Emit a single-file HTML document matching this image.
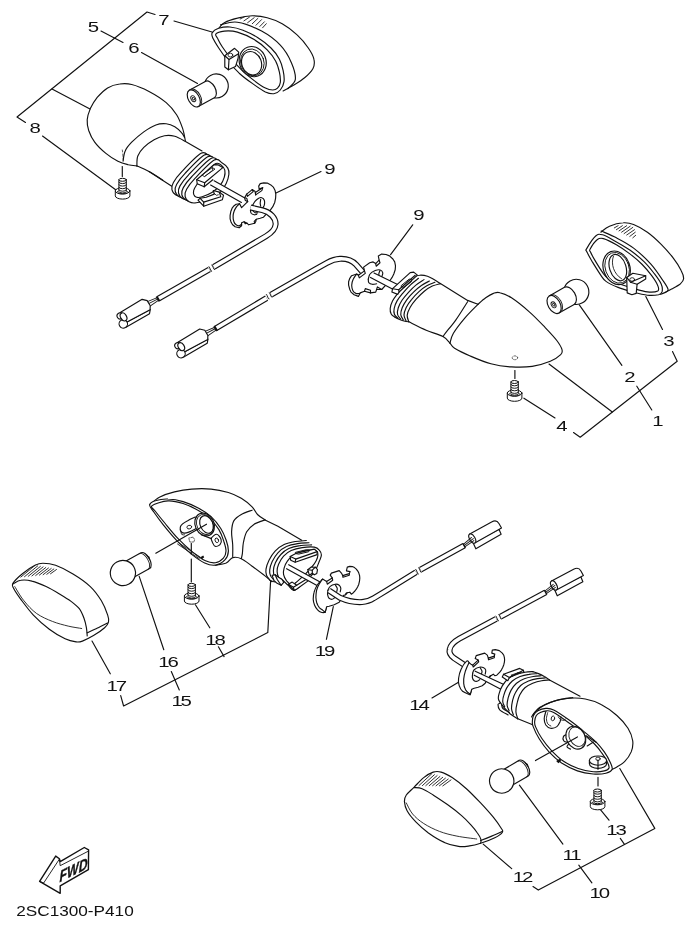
<!DOCTYPE html>
<html>
<head>
<meta charset="utf-8">
<title>Flasher Light Parts Diagram 2SC1300-P410</title>
<style>
html,body{margin:0;padding:0;background:#fff;}
body{width:696px;height:928px;overflow:hidden;font-family:"Liberation Sans",sans-serif;}
svg{display:block;filter:grayscale(100%);}
.l{fill:none;stroke:#111;stroke-width:1.15;stroke-linecap:round;stroke-linejoin:round;}
.t{fill:none;stroke:#1a1a1a;stroke-width:0.9;stroke-linecap:round;stroke-linejoin:round;}
.w{fill:#fff;stroke:#111;stroke-width:1.15;stroke-linecap:round;stroke-linejoin:round;}
.wt{fill:#fff;stroke:#1a1a1a;stroke-width:0.9;stroke-linecap:round;stroke-linejoin:round;}
.k{fill:#111;stroke:none;}
.n{font-family:"Liberation Sans",sans-serif;font-size:15.2px;fill:#111;text-anchor:middle;}
</style>
</head>
<body>
<svg width="696" height="928" viewBox="0 0 696 928">
<rect x="0" y="0" width="696" height="928" fill="#fff"/>
<g id="leaders" class="l">
  <path d="M25.5,122.5 L17,117 L147,12 L155,14.5"/>
  <path d="M101,31 L123,42.5"/>
  <path d="M141.5,52.5 L197.5,83.5"/>
  <path d="M52,89 L90,109"/>
  <path d="M42.5,136 L116,190"/>
  <path d="M174,21 L212,32"/>
  <path d="M321,171.5 L276,193"/>
  <path d="M412.7,224.8 L390.6,254.7"/>
  <path d="M645.8,296.5 L662.5,329.4"/>
  <path d="M672.5,351.5 L677.2,361.2 L580.2,437.2 L573.5,432.5"/>
  <path d="M579.3,304.9 L621.9,365.3"/>
  <path d="M636.8,386.2 L651.8,410"/>
  <path d="M549,364 L612.3,412"/>
  <path d="M523.9,398.2 L555,417.9"/>
  <path d="M92,641 L110.3,673.8"/>
  <path d="M120.7,695.6 L123.6,706 L267.8,632.6 L270.6,581"/>
  <path d="M139.2,576.4 L163.8,649.7"/>
  <path d="M171.3,671.5 L179.3,689.9"/>
  <path d="M195.4,604.8 L209.8,627.8"/>
  <path d="M218.4,646.8 L224.1,656.6"/>
  <path d="M333.3,606.6 L326.4,639.3"/>
  <path d="M432,697.9 L461,680.8"/>
  <path d="M483.2,844.1 L511.7,868.6"/>
  <path d="M533,886.5 L538.3,890.1 L654.8,828.4 L619.8,768.5"/>
  <path d="M519.4,785.2 L562.9,844.1"/>
  <path d="M578.8,865.2 L591.9,882.8"/>
  <path d="M599.8,808.9 L609,820.2"/>
  <path d="M620.3,838.4 L624.3,844.1"/>
</g>
<g id="labels" class="n">
  <text transform="translate(164,24.8) scale(1.34,1)">7</text>
  <text transform="translate(93.5,31.8) scale(1.34,1)">5</text>
  <text transform="translate(134,52.8) scale(1.34,1)">6</text>
  <text transform="translate(35.2,132.60000000000002) scale(1.34,1)">8</text>
  <text transform="translate(330,173.8) scale(1.34,1)">9</text>
  <text transform="translate(419,220.3) scale(1.34,1)">9</text>
  <text transform="translate(669,345.8) scale(1.34,1)">3</text>
  <text transform="translate(630,381.8) scale(1.34,1)">2</text>
  <text transform="translate(658,426.3) scale(1.34,1)">1</text>
  <text transform="translate(562,431.3) scale(1.34,1)">4</text>
  <text transform="translate(214.5,644.8) scale(1.34,1)" style="letter-spacing:-1.6px">18</text>
  <text transform="translate(167.4,666.8) scale(1.34,1)" style="letter-spacing:-1.6px">16</text>
  <text transform="translate(115.7,690.8) scale(1.34,1)" style="letter-spacing:-1.6px">17</text>
  <text transform="translate(180.6,705.8) scale(1.34,1)" style="letter-spacing:-1.6px">15</text>
  <text transform="translate(324.0,656.3) scale(1.34,1)" style="letter-spacing:-1.6px">19</text>
  <text transform="translate(418.5,710.3) scale(1.34,1)" style="letter-spacing:-1.6px">14</text>
  <text transform="translate(615.4,834.5999999999999) scale(1.34,1)" style="letter-spacing:-1.6px">13</text>
  <text transform="translate(571.0,859.8) scale(1.34,1)" style="letter-spacing:-1.6px">11</text>
  <text transform="translate(522.0,882.3) scale(1.34,1)" style="letter-spacing:-1.6px">12</text>
  <text transform="translate(598.8,897.8) scale(1.34,1)" style="letter-spacing:-1.6px">10</text>
</g>
<text transform="translate(16.2,915.7) scale(1.178,1)" style="font-family:'Liberation Sans',sans-serif;font-size:14.6px;fill:#111;">2SC1300-P410</text>
<g id="p5">
<path class="w" d="M185.5,141.4 L203,151.5 L176,191 L149,171.6" style="stroke:none"/>
<path class="l" d="M185.5,141.4 L202,151 M149,171.6 L174.5,188"/>
<path class="l" d="M136.9,165.9 C135.5,165.7 131.4,165.4 128.3,164.7 C125.1,163.9 121.7,163.1 117.9,161.2 C114.2,159.3 109.7,156.6 105.9,153.4 C102,150.3 97.5,146.1 94.7,142.2 C91.8,138.4 89.9,133.9 88.6,130.2 C87.4,126.4 87,123.4 87.2,119.8 C87.5,116.2 88.7,112.4 90.3,108.6 C92,104.9 94.4,100.9 97.2,97.4 C100.1,94 103.9,90.2 107.6,87.9 C111.3,85.7 115.6,84.5 119.7,84 C123.7,83.4 126.8,83.2 131.7,84.5 C136.6,85.7 143.2,88.4 149,91.4 C154.7,94.4 161.6,98.7 166.2,102.6 C170.8,106.5 173.8,110.3 176.6,114.7 C179.3,119 181.1,124 182.6,128.4 C184.1,132.9 185,139.2 185.5,141.4"/>
<path class="l" d="M136.9,165.9 C138.9,166.8 144.7,169.2 149,171.6 C153.3,173.9 160.5,178.7 162.8,180.2"/>
<path class="l" d="M123.1,161.2 C123.4,159.5 123.7,154 125.2,150.9 C126.6,147.7 128.6,145.4 131.7,142.2 C134.8,139.1 139.8,134.8 143.8,131.9 C147.8,129 152.1,126.4 155.9,125 C159.6,123.6 163,123.5 166.2,123.8 C169.4,124.1 172.2,125.2 174.8,126.7 C177.4,128.2 180.1,131 181.7,132.8 C183.3,134.5 184,136.6 184.5,137.4"/>
<path class="l" d="M136.9,165.9 C137,164.2 136.6,159.1 137.8,156 C138.9,153 141.1,150.1 143.8,147.4 C146.5,144.7 150.7,141.6 154.1,139.7 C157.6,137.7 161,136.3 164.5,135.7 C167.9,135.1 171.3,135.3 174.8,136.2 C178.3,137.2 183.7,140.5 185.5,141.4"/>
<path class="t" d="M122.3,150 L122.6,152 M122.8,154 L123,156.5 M123.1,158 L123.2,160" style="stroke-width:0.7"/>
<path class="l" d="M122.3,166.5 L122.3,176.5"/>
</g>
<g id="p5end">
<path class="w" d="M214.3,160.1 C218.8,157.6 220.1,161.8 222.3,163.1 C224.6,164.5 226.8,166.3 227.8,168.1 C228.9,170 229.1,171.7 228.9,174.2 C228.6,176.7 227.8,180.2 226.3,183.2 C224.9,186.2 223,189.6 220.3,192.3 C217.6,195 214.3,197.6 210.2,199.3 C206.2,201.1 199.7,202.4 196.2,202.8 C192.6,203.3 191,202.9 189.1,201.8 C187.3,200.8 185.5,198.4 185.1,196.3 C184.7,194.2 184.9,192.3 186.6,189.3 C188.3,186.2 190.5,183.1 195.2,178.2 C199.8,173.3 209.7,162.6 214.3,160.1 Z" transform="translate(-13.2,-6.8)"/>
<path class="w" d="M214.3,160.1 C218.8,157.6 220.1,161.8 222.3,163.1 C224.6,164.5 226.8,166.3 227.8,168.1 C228.9,170 229.1,171.7 228.9,174.2 C228.6,176.7 227.8,180.2 226.3,183.2 C224.9,186.2 223,189.6 220.3,192.3 C217.6,195 214.3,197.6 210.2,199.3 C206.2,201.1 199.7,202.4 196.2,202.8 C192.6,203.3 191,202.9 189.1,201.8 C187.3,200.8 185.5,198.4 185.1,196.3 C184.7,194.2 184.9,192.3 186.6,189.3 C188.3,186.2 190.5,183.1 195.2,178.2 C199.8,173.3 209.7,162.6 214.3,160.1 Z" transform="translate(-9.9,-5.1)"/>
<path class="w" d="M214.3,160.1 C218.8,157.6 220.1,161.8 222.3,163.1 C224.6,164.5 226.8,166.3 227.8,168.1 C228.9,170 229.1,171.7 228.9,174.2 C228.6,176.7 227.8,180.2 226.3,183.2 C224.9,186.2 223,189.6 220.3,192.3 C217.6,195 214.3,197.6 210.2,199.3 C206.2,201.1 199.7,202.4 196.2,202.8 C192.6,203.3 191,202.9 189.1,201.8 C187.3,200.8 185.5,198.4 185.1,196.3 C184.7,194.2 184.9,192.3 186.6,189.3 C188.3,186.2 190.5,183.1 195.2,178.2 C199.8,173.3 209.7,162.6 214.3,160.1 Z" transform="translate(-6.6,-3.4)"/>
<path class="w" d="M214.3,160.1 C218.8,157.6 220.1,161.8 222.3,163.1 C224.6,164.5 226.8,166.3 227.8,168.1 C228.9,170 229.1,171.7 228.9,174.2 C228.6,176.7 227.8,180.2 226.3,183.2 C224.9,186.2 223,189.6 220.3,192.3 C217.6,195 214.3,197.6 210.2,199.3 C206.2,201.1 199.7,202.4 196.2,202.8 C192.6,203.3 191,202.9 189.1,201.8 C187.3,200.8 185.5,198.4 185.1,196.3 C184.7,194.2 184.9,192.3 186.6,189.3 C188.3,186.2 190.5,183.1 195.2,178.2 C199.8,173.3 209.7,162.6 214.3,160.1 Z" transform="translate(-3.3,-1.7)"/>
<path class="w" d="M214.3,160.1 C218.8,157.6 220.1,161.8 222.3,163.1 C224.6,164.5 226.8,166.3 227.8,168.1 C228.9,170 229.1,171.7 228.9,174.2 C228.6,176.7 227.8,180.2 226.3,183.2 C224.9,186.2 223,189.6 220.3,192.3 C217.6,195 214.3,197.6 210.2,199.3 C206.2,201.1 199.7,202.4 196.2,202.8 C192.6,203.3 191,202.9 189.1,201.8 C187.3,200.8 185.5,198.4 185.1,196.3 C184.7,194.2 184.9,192.3 186.6,189.3 C188.3,186.2 190.5,183.1 195.2,178.2 C199.8,173.3 209.7,162.6 214.3,160.1 Z"/>
<path class="l" d="M215.8,163.6 C218.7,162.2 220.3,164.5 221.8,165.6 C223.3,166.7 224.4,168.2 224.8,170.2 C225.2,172.1 225.1,174.7 224.3,177.2 C223.6,179.7 222.3,182.7 220.3,185.2 C218.3,187.8 215.3,190.4 212.3,192.3 C209.2,194.2 204.8,196 202.2,196.8 C199.6,197.6 198,197.6 196.7,197.3 C195.3,197 194.4,196 193.9,194.8 C193.5,193.6 193.3,191.9 193.7,190.3 C194.2,188.6 194.9,187.4 196.7,184.7 C198.4,182.1 201,177.7 204.2,174.2 C207.4,170.7 212.8,165 215.8,163.6 Z"/>
<path class="w" d="M213.3,190.5 L219.3,192.1 L223.5,195.3 L222.3,199.8 L203.7,206.2 L198,200.1 L200.2,198.3 L206.2,197.3 L214.3,194.1 Z"/>
<path class="l" d="M200.2,198.3 L203.7,202.1 L220.8,196.8 L219.3,192.1"/>
<path class="l" d="M203.7,202.1 L203.7,206.2"/>
<path class="t" d="M214.3,193.3 L216.3,195.3 L218.3,194.8"/>
<path class="w" d="M214.1,180.8 L244.4,197.7 L241.4,202.4 L210.6,185.1 Z" style="stroke:none"/>
<path class="l" d="M214.1,180.8 L244.4,197.7"/>
<path class="l" d="M210.6,185.1 L241.4,202.4"/>
<path class="w" d="M196.7,179.7 L214.3,164.6 L218.3,164.9 L222.8,167.6 L204.7,182.7 L204.2,186.8 L197.2,183.7 Z"/>
<path class="l" d="M196.7,179.7 L204.7,182.7"/>
<path class="l" d="M204.2,186.8 L212.8,179.7"/>
<path class="t" d="M202.2,174.7 L212.3,167.6 L215,169.1 L204.7,176.4 Z"/>
<path class="t" d="M212.3,167.6 L212.8,170.2 L204.7,176.4"/>
</g>
<g style="stroke-width:1.0;stroke:#111">
<path class="w" style="stroke-width:1.0" d="M115.3,190.9 L115.3,195.9 A7.3,3.2 0 0 0 129.9,195.9 L129.9,190.9 Z"/>
<ellipse class="w" style="stroke-width:1.0" cx="122.6" cy="190.9" rx="7.3" ry="3.2"/>
<path class="t" d="M117.4,191.5 A5.2,2.2 0 0 0 127.8,191.5"/>
<path class="w" style="stroke-width:1.0" d="M118.9,179.8 L118.9,191.5 A3.7,1.5 0 0 0 126.3,191.5 L126.3,179.8 Z"/>
<path class="l" style="stroke-width:0.95" d="M118.9,182.2 A3.7,1.4 0 0 0 126.3,182.2"/>
<path class="l" style="stroke-width:0.95" d="M118.9,184.7 A3.7,1.4 0 0 0 126.3,184.7"/>
<path class="l" style="stroke-width:0.95" d="M118.9,187.3 A3.7,1.4 0 0 0 126.3,187.3"/>
<path class="l" style="stroke-width:0.95" d="M118.9,189.8 A3.7,1.4 0 0 0 126.3,189.8"/>
<ellipse class="w" style="stroke-width:1.0" cx="122.6" cy="179.8" rx="3.7" ry="1.5"/>
</g>
<g transform="translate(193.8,98.4) rotate(-29)">
<circle class="w" cx="25.7" cy="0" r="12.0"/>
<path class="w" style="stroke:none" d="M0,-9.3 L18.3,-9.3 A5.5,9.3 0 0 1 18.3,9.3 L0,9.3 Z"/>
<path class="l" d="M0,-9.3 L18.3,-9.3 A5.5,9.3 0 0 1 18.3,9.3 L0,9.3"/>
<ellipse class="wt" cx="1.6" cy="0" rx="5.5" ry="9.3"/>
<ellipse class="w" cx="0" cy="0" rx="5.5" ry="9.3"/>
<ellipse class="t" cx="-0.6" cy="0" rx="2.2" ry="3.2"/>
<ellipse class="t" cx="-0.4" cy="0" rx="1.0" ry="1.5"/>
</g>
<g id="p7">
<path class="w" d="M218.7,28.3 C219.6,27.4 221.2,24.5 224.3,22.7 C227.4,21 232.7,19.2 237.4,18.1 C242,16.9 247.3,15.9 252.3,15.8 C257.3,15.8 262.3,16.4 267.2,17.7 C272.2,19 277.2,20.8 282.2,23.7 C287.2,26.5 292.8,30.8 297.1,34.9 C301.5,38.9 305.5,43.9 308.3,48 C311.1,52 313.2,55.7 313.9,59.2 C314.7,62.6 314.6,65.4 313,68.5 C311.4,71.6 307.9,75 304.6,77.8 C301.3,80.6 297,83.1 293.4,85.3 C289.8,87.5 284.8,90 283.1,90.9"/>
<path class="l" d="M220.5,24.8 C223.3,24.4 230.5,21.1 237.4,22.2 C244.2,23.2 254.5,27.3 261.6,31.1 C268.8,35 275.3,39.9 280.3,45.2 C285.3,50.4 289,57.1 291.5,62.9 C294,68.7 295.9,75.4 295.3,79.7 C294.6,84 289,87.2 287.8,88.7"/>
<path class="t" d="M240.2,19 L244.8,16.6"/>
<path class="t" d="M243.9,20.9 L249.5,17.1"/>
<path class="t" d="M247.6,22.7 L254.2,17.7"/>
<path class="t" d="M252.3,23.7 L257.9,18.4"/>
<path class="t" d="M256,25.2 L261.6,19.6"/>
<path class="t" d="M259.8,26.5 L264.4,21.8"/>
<path class="t" d="M262.6,27.8 L266.3,23.7"/>
<path class="w" d="M212.1,33 C213.1,31.3 215.7,29.3 218.7,28.3 C221.6,27.4 225.8,26.7 229.9,27 C233.9,27.4 238.3,28.4 243,30.2 C247.6,32 253.2,34.7 257.9,37.7 C262.6,40.6 267.4,44.4 271,48 C274.6,51.5 277.4,55.4 279.4,59.2 C281.4,62.9 282.3,66.6 283.1,70.4 C283.9,74.1 284.5,78.3 284,81.6 C283.6,84.8 282,88 280.3,90 C278.6,92 276.3,93.4 273.8,93.7 C271.3,94 269,93.6 265.4,91.9 C261.8,90.1 256.7,86.6 252.3,83.4 C247.9,80.3 243.3,76.9 239.2,73.2 C235.2,69.4 231.4,65.2 228,61 C224.6,56.8 221.2,51.7 218.7,48 C216.2,44.2 214.2,41.1 213.1,38.6 C212,36.1 211.2,34.7 212.1,33 Z"/>
<path class="l" d="M215.9,34 C217,32.7 220.7,31.5 224.3,31.1 C227.9,30.8 232.4,30.7 237.4,32.1 C242.3,33.5 249.2,36.6 254.2,39.6 C259.1,42.5 263.7,46.2 267.2,49.8 C270.8,53.4 273.6,57.3 275.6,61 C277.7,64.8 278.6,68.7 279.4,72.2 C280.2,75.8 280.6,79.9 280.3,82.5 C280,85.2 278.8,86.9 277.5,88.1 C276.3,89.4 274.9,90 272.8,90 C270.8,90 268.5,89.7 265.4,88.1 C262.3,86.6 258.1,83.6 254.2,80.6 C250.3,77.7 245.9,74.1 242,70.4 C238.1,66.6 234.1,62.1 230.8,58.2 C227.5,54.3 224.6,50.3 222.4,47 C220.2,43.8 218.8,40.8 217.7,38.6 C216.7,36.4 214.8,35.2 215.9,34 Z"/>
<ellipse class="w" cx="252.7" cy="61.6" rx="13.3" ry="15.3" transform="rotate(-20 252.7 61.6)"/>
<ellipse class="t" cx="252.1" cy="62.2" rx="11.6" ry="13.6" transform="rotate(-20 252.7 61.6)"/>
<ellipse class="l" cx="251.1" cy="62.8" rx="9.8" ry="12" transform="rotate(-20 252.7 61.6)"/>
<path class="w" d="M224.8,55.8 L234.6,48.3 L238.7,52.1 L238.1,58.2 L235.5,66.6 L228.4,69.8 L224.8,67 Z"/>
<path class="l" d="M224.8,55.8 L229,59.5 L238.1,53.9"/>
<path class="l" d="M229,59.5 L228.4,69.8"/>
<ellipse class="t" cx="230.4" cy="55.1" rx="2.4" ry="1.9"/>
</g>
<g id="p9a">
<path class="w" d="M260.2,183.6 L263.8,182.9 L267.3,183.1 L270.8,184.9 L273.3,187.1 L275.1,190.6 L275.8,194.1 L275.6,198.2 L274.8,202.2 L272.8,206.7 L270.3,210.2 L267.3,212.8 L263.3,217.3 L260.2,218.3 L256.2,219.3 L255.7,221.8 L254.7,223.3 L248.7,224.8 L247.2,223.3 L244.1,221.8 L241.6,222.8 L241.6,225.8 L239.1,227.8 L235.1,226.8 L232.6,224.8 L231.1,222.3 L230.1,218.8 L230.1,215.3 L230.9,211.2 L232.1,208.2 L234.1,205.7 L236.1,204.2 L239.6,203.7 L241.6,207.7 L247.7,201.7 L246.7,198.2 L244.6,197.7 L246.7,194.1 L252.2,189.6 L255.2,191.6 L255.7,194.9 L261.8,190.6 L262.8,187.6 L259.2,189.1 L258.7,186.1 Z"/>
<path class="l" d="M239.6,203.7 C239.1,204.2 237.5,205.5 236.6,206.7 C235.7,208 234.7,209.7 234.1,211.2 C233.5,212.8 233.1,214.5 233.1,216.3 C233,218 233.4,220.4 233.9,221.8 C234.4,223.2 235.2,224.2 236.1,224.8 C237,225.5 238.2,225.9 239.1,225.8 C240,225.8 241.2,224.6 241.6,224.3"/>
<path class="l" d="M244.6,197.7 L245.2,200.2 L247.7,201.7"/>
<path class="l" d="M246.7,194.1 L247.4,196.4 L253.2,191.6 L252.2,189.6"/>
<path class="l" d="M255.7,194.9 L255.4,192.6 L260.7,189.1 L259.2,189.1"/>
<path class="l" d="M244.1,221.8 L245.2,223.8 L247.2,223.3"/>
<path class="l" d="M254.7,223.3 L254.2,221.3 L256.2,219.3"/>
<path class="l" d="M252.7,205.2 C253.1,204.5 254.2,202.4 255.2,201.2 C256.2,200 257.6,198.8 258.7,198.2 C259.8,197.6 260.8,197.3 261.8,197.7 C262.7,198 263.8,198.9 264.3,200.2 C264.7,201.4 264.6,203.8 264.3,205.2 C263.9,206.6 262.6,208.1 262.3,208.7"/>
<path class="l" d="M260.7,199.2 C260.7,199.8 260.2,202 260.2,203.2 C260.2,204.4 260.7,205.7 260.7,206.2"/>
<path class="l" d="M252.7,205.2 C252.4,205.9 250.9,207.9 250.7,209.2 C250.4,210.6 250.6,212.3 251.2,213.3 C251.8,214.2 253.3,214.6 254.2,214.8 C255.1,214.9 256.3,214.3 256.7,214.3"/>
<path class="l" d="M253.2,211.2 C253.5,211.5 254.5,212.5 255.2,212.8 C256,213 257.3,212.8 257.7,212.8"/>
</g>
<g id="cable5">
<path d="M250.5,207.5 L262.3,210.2 C270,212 276,218 275.6,224.4 C275.2,229.6 271,233.2 266,236.2 L213.8,266.9" style="fill:none;stroke:#111;stroke-width:6.0;stroke-linecap:butt;stroke-linejoin:round"/>
<path d="M250.5,207.5 L262.3,210.2 C270,212 276,218 275.6,224.4 C275.2,229.6 271,233.2 266,236.2 L213.8,266.9" style="fill:none;stroke:#fff;stroke-width:3.7;stroke-linecap:butt;stroke-linejoin:round"/>
<path d="M209.3,269.5 L158,298.9" style="fill:none;stroke:#111;stroke-width:6.0;stroke-linecap:butt;stroke-linejoin:round"/>
<path d="M209.3,269.5 L158,298.9" style="fill:none;stroke:#fff;stroke-width:3.7;stroke-linecap:butt;stroke-linejoin:round"/>
<g transform="translate(211.5,268.2) rotate(-30.5)" class="t">
<path d="M-1.6,-2.7 C-0.4,-1.6 -2.6,0.8 -1.4,2.7"/>
<path d="M1.8,-2.7 C3,-1.6 0.8,0.8 2,2.7"/>
</g>
<g transform="translate(158,298.9) rotate(149.5)">
<path class="t" d="M0,-1.5 L10.5,-2.2 M0,0 L10.5,0.6 M0,1.5 L10.5,3"/>
<path d="M0,-2.8 L0,2.8" style="stroke:#111;stroke-width:2.2;fill:none"/>
<path class="w" d="M12,-5.2 L14.8,-8.4 L42,-8.2 L39,-4.2 Z"/>
<path class="w" d="M13.9,7.7 L10.2,4 L10.2,-2 L12.4,-5.4 L39,-4.2 L39,7.4 Z"/>
<circle class="w" cx="42.6" cy="-3.9" r="4.2"/>
<circle class="w" cx="41.2" cy="4.6" r="3.1"/>
<ellipse class="w" cx="38.8" cy="2.0" rx="2.9" ry="4.3"/>
</g>
</g>
<g id="asm1">
<path d="M363,272.5 L356,264.5 C352,260.3 346,258.5 340,258.8 C335,259 331,260.6 327,262.8 L314,270.2 L271.2,294.6" style="fill:none;stroke:#111;stroke-width:6.0;stroke-linecap:butt;stroke-linejoin:round"/>
<path d="M363,272.5 L356,264.5 C352,260.3 346,258.5 340,258.8 C335,259 331,260.6 327,262.8 L314,270.2 L271.2,294.6" style="fill:none;stroke:#fff;stroke-width:3.7;stroke-linecap:butt;stroke-linejoin:round"/>
<path d="M266.6,298.1 L215.6,328.5" style="fill:none;stroke:#111;stroke-width:6.0;stroke-linecap:butt;stroke-linejoin:round"/>
<path d="M266.6,298.1 L215.6,328.5" style="fill:none;stroke:#fff;stroke-width:3.7;stroke-linecap:butt;stroke-linejoin:round"/>
<g transform="translate(268.9,295.9) rotate(-30.5)" class="t">
<path d="M-1.6,-2.7 C-0.4,-1.6 -2.6,0.8 -1.4,2.7"/>
<path d="M1.8,-2.7 C3,-1.6 0.8,0.8 2,2.7"/>
</g>
<g transform="translate(215.6,328.5) rotate(149.2)">
<path class="t" d="M0,-1.5 L10.5,-2.2 M0,0 L10.5,0.6 M0,1.5 L10.5,3"/>
<path d="M0,-2.8 L0,2.8" style="stroke:#111;stroke-width:2.2;fill:none"/>
<path class="w" d="M12,-5.2 L14.8,-8.4 L42,-8.2 L39,-4.2 Z"/>
<path class="w" d="M13.9,7.7 L10.2,4 L10.2,-2 L12.4,-5.4 L39,-4.2 L39,7.4 Z"/>
<circle class="w" cx="42.6" cy="-3.9" r="4.2"/>
<circle class="w" cx="41.2" cy="4.6" r="3.1"/>
<ellipse class="w" cx="38.8" cy="2.0" rx="2.9" ry="4.3"/>
</g>
<path class="w" d="M381.7,254.1 L386,254.5 L389.5,255.9 L392.9,259 L394.7,261.9 L395.5,265.9 L395.2,269.7 L393.8,274 L392.1,277.4 L389.5,281.2 L386.9,283.8 L381.7,289.5 L376.6,289.5 L375.7,292.1 L370.5,292.9 L364.5,291.2 L360.2,292.9 L358.4,296.4 L354.1,294.7 L351,292.1 L349.8,289.5 L348.6,285.2 L348.6,281.7 L349.8,278.3 L351.6,275.7 L356.7,274 L358.4,275.2 L364.5,270.9 L363.6,267.1 L369.7,262.8 L373.1,261.9 L375.7,263.6 L379.1,260.2 L378.3,255.9 Z"/>
<path class="l" d="M356.7,274 C356.1,274.8 354.1,277.3 353.3,279.1 C352.4,281 351.8,283.2 351.7,285.2 C351.7,287.1 352.2,289.3 352.9,290.7 C353.6,292.1 354.7,293 355.9,293.4 C357,293.9 359,293.4 359.7,293.4"/>
<path class="l" d="M358.4,275.2 L359.3,277.9 L365.3,273.4 L364.5,270.9"/>
<path class="l" d="M375.7,263.6 L376.2,266.2 L380,262.8 L379.1,260.2"/>
<path class="l" d="M364.5,291.2 L365.3,288.6 L370.5,290.3 L370.5,292.9"/>
<path class="l" d="M376.6,289.5 L377.4,286.9 L381.7,289.5"/>
<path class="l" d="M368.3,279.1 C368.6,278.3 368.9,275.4 370,274 C371.1,272.5 373.4,271.2 375.2,270.5 C376.9,269.9 379.1,269.6 380.3,270 C381.6,270.4 382.5,271.6 382.8,272.8 C383,273.9 381.9,276.2 381.7,276.9"/>
<path class="l" d="M368.3,279.1 C368.4,279.7 368.1,281.7 368.8,282.6 C369.5,283.4 370.9,284.1 372.2,284.3 C373.5,284.5 375.8,283.9 376.6,283.8"/>
<path class="l" d="M380,270.5 C379.8,271.1 378.9,272.8 378.8,274 C378.7,275.1 379.5,276.8 379.7,277.4"/>
<path class="w" d="M374,273.1 L400.7,286 L398.1,292.1 L370.5,277.4 Z" style="stroke:none"/>
<path class="l" d="M374,273.1 L400.7,286"/>
<path class="l" d="M370.5,277.4 L398.1,292.1"/>
<path class="w" d="M395.1,317.3 L391.2,314 L390.2,308.5 L392.5,301 L398,293 L405,284.5 L413,277 L440.4,283.6 L440.4,283.6 L467.6,300.4 L477.9,304.3 L477.9,304.3 L485.7,297.8 L493.4,293.4 L499.9,292.7 L511.5,297.8 L529.6,312.1 L545.2,327.6 L556.8,340.5 L562,349.6 L560.7,354.7 L550.3,361.2 L532.2,366.4 L511.5,366.9 L490.9,363.8 L470.2,356 L454.6,348.3 L450,343.1 L450,343.1 L443,336.6 L426.2,330.2 L408.8,321.8 L408.8,321.8 L407.2,315.3 L410.2,307.3 L416.2,299.2 L424.3,291.2 L432.3,286.1 L440.4,283.6 Z" style="stroke:none"/>
<path class="w" d="M413,277 L405,284.5 L398,293 L392.5,301 L390.2,308.5 L391.2,314 L395.1,317.3 L408.8,321.8 L407.2,315.3 L410.2,307.3 L416.2,299.2 L424.3,291.2 L432.3,286.1 L440.4,283.6 Z" style="stroke:none"/>
<path class="l" d="M413,277 C411.7,278.2 407.5,281.8 405,284.5 C402.5,287.2 400.1,290.2 398,293 C395.9,295.8 393.8,298.4 392.5,301 C391.2,303.6 390.4,306.3 390.2,308.5 C390,310.7 390.4,312.5 391.2,314 C392,315.5 394.5,316.8 395.1,317.3"/>
<path class="l" d="M418.5,278.3 C417.1,279.4 413,282.4 410.5,284.8 C407.9,287.2 405.5,290 403.3,292.6 C401.1,295.3 398.8,298 397.2,300.6 C395.7,303.2 394.7,306 394.2,308.3 C393.7,310.5 393.8,312.6 394.4,314.3 C395,315.9 397.3,317.5 397.8,318.2"/>
<path class="l" d="M424,279.6 C422.6,280.6 418.5,283 415.9,285.1 C413.3,287.2 410.8,289.8 408.5,292.3 C406.2,294.8 403.7,297.7 402,300.3 C400.3,302.9 398.9,305.6 398.2,308 C397.5,310.4 397.2,312.7 397.6,314.5 C398,316.4 400.1,318.3 400.6,319.1"/>
<path class="l" d="M429.4,281 C428.1,281.7 424,283.6 421.4,285.5 C418.8,287.3 416.2,289.5 413.8,291.9 C411.3,294.3 408.6,297.3 406.7,299.9 C404.8,302.6 403.2,305.3 402.2,307.8 C401.2,310.3 400.6,312.7 400.8,314.8 C401,316.8 402.9,319.1 403.3,320"/>
<path class="l" d="M434.9,282.3 C433.6,282.9 429.5,284.2 426.8,285.8 C424.2,287.3 421.6,289.3 419,291.6 C416.5,293.9 413.6,296.9 411.5,299.6 C409.3,302.2 407.4,305 406.2,307.5 C405,310.1 404,312.8 404,315 C404,317.3 405.7,319.9 406.1,320.9"/>
<path class="l" d="M440.4,283.6 C439,284 435,284.8 432.3,286.1 C429.6,287.4 427,289 424.3,291.2 C421.6,293.4 418.6,296.5 416.2,299.2 C413.8,301.9 411.7,304.6 410.2,307.3 C408.7,310 407.4,312.9 407.2,315.3 C407,317.7 408.5,320.7 408.8,321.8"/>
<path class="l" d="M413,277 C414.2,276.7 417.6,275.3 420,275.2 C422.4,275.1 425.2,275.5 427.5,276.2 C429.8,276.9 431.9,278.3 434,279.5 C436.1,280.7 439.3,282.9 440.4,283.6"/>
<path class="l" d="M395.1,317.3 C395.8,317.6 397.5,318.6 399,319.2 C400.5,319.8 402.4,320.6 404,321 C405.6,321.4 408,321.7 408.8,321.8"/>
<path class="l" d="M440.4,283.6 L467.6,300.4 L477.9,304.3"/>
<path class="l" d="M477.9,304.3 C479.2,303.2 483.1,299.7 485.7,297.8 C488.3,296 491.1,294.3 493.4,293.4 C495.8,292.6 496.9,291.9 499.9,292.7 C502.9,293.4 506.6,294.6 511.5,297.8 C516.5,301.1 524,307.1 529.6,312.1 C535.2,317 540.6,322.8 545.2,327.6 C549.7,332.3 554,336.8 556.8,340.5 C559.6,344.2 561.3,347.2 562,349.6 C562.6,351.9 562.6,352.8 560.7,354.7 C558.7,356.7 555.1,359.3 550.3,361.2 C545.6,363.1 538.7,365.4 532.2,366.4 C525.8,367.3 518.4,367.3 511.5,366.9 C504.6,366.5 497.7,365.6 490.9,363.8 C484,362 476.2,358.6 470.2,356 C464.1,353.4 458,350.4 454.6,348.3 C451.3,346.1 450.8,344 450,343.1"/>
<path class="l" d="M408.8,321.8 C411.7,323.2 420.5,327.7 426.2,330.2 C431.9,332.6 439,334.5 443,336.6 C447,338.8 448.8,342 450,343.1"/>
<path class="w" d="M391.9,292 L392.6,288.7 L410.2,272.6 L413.7,272.1 L417.4,275.1 L399.1,292 L397.7,294.4 Z"/>
<path class="l" d="M392.6,288.7 L398.7,289.8 L415.2,275.3"/>
<path class="l" d="M398.7,289.8 L399.1,292"/>
<path class="l" d="M401.6,285.3 L409.2,279.1 L411.7,279.6 L411.4,281.6 L404.1,287.2 L401.6,286.9 Z" style="stroke-width:1"/>
<path class="l" d="M467.6,301.7 C465.6,304.7 459.6,314.6 455.9,319.8 C452.3,325 447.8,330 445.6,332.8 C443.4,335.6 443.4,336 443,336.6"/>
<path class="l" d="M477.9,304.3 C475.8,306.5 469.1,312.9 465,317.8 C460.9,322.6 455.9,329 453.4,333.3 C450.9,337.5 450.6,341.5 450,343.1"/>
<ellipse class="t" cx="514.9" cy="357.8" rx="2.8" ry="1.9" style="stroke-dasharray:1.3 1.3;stroke-width:0.7"/>
<path class="l" d="M514.9,370.5 L514.9,378.5"/>
</g>
<g style="stroke-width:1.0;stroke:#111">
<path class="w" style="stroke-width:1.0" d="M507.3,393.1 L507.3,398.1 A7.3,3.2 0 0 0 521.9,398.1 L521.9,393.1 Z"/>
<ellipse class="w" style="stroke-width:1.0" cx="514.6" cy="393.1" rx="7.3" ry="3.2"/>
<path class="t" d="M509.4,393.7 A5.2,2.2 0 0 0 519.8,393.7"/>
<path class="w" style="stroke-width:1.0" d="M510.9,382 L510.9,393.7 A3.7,1.5 0 0 0 518.3,393.7 L518.3,382 Z"/>
<path class="l" style="stroke-width:0.95" d="M510.9,384.4 A3.7,1.4 0 0 0 518.3,384.4"/>
<path class="l" style="stroke-width:0.95" d="M510.9,386.9 A3.7,1.4 0 0 0 518.3,386.9"/>
<path class="l" style="stroke-width:0.95" d="M510.9,389.4 A3.7,1.4 0 0 0 518.3,389.4"/>
<path class="l" style="stroke-width:0.95" d="M510.9,392 A3.7,1.4 0 0 0 518.3,392"/>
<ellipse class="w" style="stroke-width:1.0" cx="514.6" cy="382" rx="3.7" ry="1.5"/>
</g>
<g transform="translate(554.1,304.5) rotate(-29.6)">
<circle class="w" cx="25.5" cy="0" r="12.6"/>
<path class="w" style="stroke:none" d="M0,-9.8 L17.5,-9.8 A6.0,9.8 0 0 1 17.5,9.8 L0,9.8 Z"/>
<path class="l" d="M0,-9.8 L17.5,-9.8 A6.0,9.8 0 0 1 17.5,9.8 L0,9.8"/>
<ellipse class="wt" cx="1.6" cy="0" rx="6.0" ry="9.8"/>
<ellipse class="w" cx="0" cy="0" rx="6.0" ry="9.8"/>
<ellipse class="t" cx="-0.6" cy="0" rx="2.2" ry="3.2"/>
<ellipse class="t" cx="-0.4" cy="0" rx="1.0" ry="1.5"/>
</g>
<g id="p3">
<path class="w" d="M600.9,232.2 C602.3,231.2 605.7,227.8 609.5,226.2 C613.2,224.6 619.3,223 623.3,222.8 C627.3,222.5 629.6,222.9 633.6,224.5 C637.6,226.1 642.8,228.9 647.4,232.2 C652,235.5 656.9,240 661.2,244.3 C665.5,248.6 670,253.8 673.3,258.1 C676.6,262.4 679.3,266.7 681,270.2 C682.8,273.6 683.8,276.5 683.6,278.8 C683.5,281.1 682.2,282.2 680.2,284 C678.2,285.7 674.1,287.7 671.6,289.1 C669,290.6 666.5,291.7 664.7,292.6 C662.8,293.4 661.1,294 660.3,294.3"/>
<path class="l" d="M601.2,231 C603.7,232.2 611,234.9 616.4,237.8 C621.8,240.6 627.9,243.7 633.6,248.1 C639.4,252.5 646,258.7 650.9,264.1 C655.7,269.5 660.1,276.3 662.9,280.5 C665.8,284.7 667.8,287.5 668.1,289.5 C668.4,291.5 665.5,292.1 665,292.6"/>
<path class="t" d="M614.3,227.9 L618.1,225.7"/>
<path class="t" d="M616.4,229.7 L622.4,225.7"/>
<path class="t" d="M619,230.9 L626.7,225.7"/>
<path class="t" d="M621.6,232.2 L630.2,226.2"/>
<path class="t" d="M624.1,233.6 L632.8,227.4"/>
<path class="t" d="M626.7,235 L634.5,229.7"/>
<path class="t" d="M629.8,236.4 L635.3,232.2"/>
<path class="t" d="M632.8,237.8 L635.7,235.3"/>
<path class="w" d="M586.7,248.6 C588.2,246 593,238.3 595.7,236 C598.3,233.7 599.4,234 602.6,234.8 C605.7,235.6 610.1,238.3 614.7,240.9 C619.3,243.4 625.3,246.9 630.2,250.3 C635.1,253.8 639.9,257.7 644,261.6 C648,265.4 651.4,269.9 654.3,273.6 C657.2,277.4 659.9,280.9 661.2,284 C662.5,287 662.5,289.9 662.1,291.7 C661.6,293.5 661.1,294.1 658.6,294.7 C656.2,295.2 651.9,295.7 647.4,295.2 C643,294.7 636.8,293 631.9,291.7 C627,290.4 622.4,289.1 618.1,287.4 C613.8,285.7 608.9,283.4 606,281.4 C603.2,279.4 603.2,278.6 600.9,275.3 C598.6,272 594.6,265.5 592.2,261.6 C589.9,257.6 587.6,253.7 586.7,251.6 C585.8,249.4 585.2,251.2 586.7,248.6 Z"/>
<path class="l" d="M590.2,249 C591.3,246.9 595.2,241.2 597.4,239.5 C599.6,237.8 600.3,237.8 603.4,238.6 C606.6,239.5 611.9,242.1 616.4,244.7 C620.8,247.2 625.9,250.8 630.2,254.1 C634.5,257.4 638.6,260.9 642.2,264.5 C645.8,268.1 649.1,272.2 651.7,275.7 C654.3,279.2 656.8,283.2 657.8,285.7 C658.8,288.2 659.5,289.8 657.8,290.9 C656,291.9 651.4,292.3 647.4,291.9 C643.4,291.5 638.2,289.8 633.6,288.4 C629,287.1 624,285.6 619.8,284 C615.7,282.4 611.4,280.5 608.6,278.8 C605.9,277.1 605.6,276.5 603.4,273.6 C601.3,270.7 597.8,265.1 595.7,261.6 C593.5,258 591.4,254.2 590.5,252.1 C589.6,250 589,251.1 590.2,249 Z"/>
<ellipse class="w" cx="616.6" cy="267.8" rx="13.2" ry="17.2" transform="rotate(-20 616.6 267.8)"/>
<ellipse class="t" cx="617.1" cy="268" rx="11.8" ry="15.8" transform="rotate(-20 616.6 267.8)"/>
<ellipse class="l" cx="617.8" cy="268" rx="8.2" ry="13.6" transform="rotate(-18 616.6 267.8)"/>
<path class="t" d="M613.4,256.3 C610.6,263.8 613.6,273.8 621.6,278.8"/>
<path class="w" d="M626.7,277.4 L632.8,273.3 L645.7,275.7 L645.7,279.1 L637.1,284.3 L636.2,293.4 L631.9,294.7 L627.2,292.9 Z"/>
<path class="l" d="M626.7,277.4 L630.5,282.2 L637.1,284.3"/>
<path class="l" d="M630.5,282.2 L645.7,275.7"/>
<ellipse class="t" cx="632.2" cy="279.5" rx="2.4" ry="1.8"/>
</g>
<g id="p15">
<path class="w" d="M149.7,504.8 C151.3,503.5 155.3,499.4 159.4,497.2 C163.5,495.1 169.1,493.2 174.5,491.9 C179.9,490.5 185.6,489.5 191.7,489.1 C197.8,488.6 205,488.5 211.1,489.1 C217.2,489.6 223.3,491 228.4,492.5 C233.4,494 237.3,495.9 241.3,498.3 C245.2,500.7 249.4,504.2 252.1,506.9 C254.8,509.6 255.3,512.3 257.5,514.5 C259.6,516.6 261.6,517.9 265,519.9 C268.4,521.8 273.6,524.1 277.9,526.3 C282.2,528.5 288.7,531.9 290.9,533 L271.9,581.7 L265,575.9 L252.1,566.2 L241.3,558.7 L232.7,557.6 L226.2,563 L215.4,565.1 Z" style="stroke:none"/>
<path class="l" d="M149.7,504.8 C151.3,503.5 155.3,499.4 159.4,497.2 C163.5,495.1 169.1,493.2 174.5,491.9 C179.9,490.5 185.6,489.5 191.7,489.1 C197.8,488.6 205,488.5 211.1,489.1 C217.2,489.6 223.3,491 228.4,492.5 C233.4,494 237.3,495.9 241.3,498.3 C245.2,500.7 249.4,504.2 252.1,506.9 C254.8,509.6 255.3,512.3 257.5,514.5 C259.6,516.6 263.7,519 265,519.9"/>
<path class="l" d="M265,519.9 L277.9,526.3 L301.7,540.3"/>
<path class="l" d="M215.4,565.1 C217.2,564.8 223.3,564.2 226.2,563 C229.1,561.7 230.2,558.3 232.7,557.6 C235.2,556.9 238.1,557.2 241.3,558.7 C244.5,560.1 248.1,563.3 252.1,566.2 C256,569.1 261.7,573.3 265,575.9 C268.3,578.5 270.7,580.8 271.9,581.7"/>
<path class="l" d="M252.1,510.2 C250.3,510.9 244.3,512.7 241.3,514.5 C238.2,516.3 235.4,518.1 233.8,520.9 C232.1,523.8 231.8,527.8 231.6,531.7 C231.4,535.7 232.5,540.5 232.7,544.7 C232.9,548.8 232.7,554.5 232.7,556.5"/>
<path class="l" d="M265,519.9 C263.2,520.6 257.3,522.2 254.2,524.2 C251.2,526.2 248.5,528.7 246.7,531.7 C244.9,534.8 244.2,538.9 243.4,542.5 C242.7,546.1 242.7,550.6 242.4,553.3 C242,556 241.5,557.8 241.3,558.7"/>
<path class="w" d="M149.7,504.8 C150.1,502.8 153.1,501.4 156.2,500.5 C159.2,499.5 163.5,498.8 168,499 C172.5,499.1 178.1,500 183.1,501.6 C188.1,503.1 193.5,505.5 198.2,508 C202.9,510.5 207.3,513.2 211.1,516.6 C214.9,520.1 218.3,524.5 220.8,528.5 C223.3,532.4 224.9,536.6 226.2,540.3 C227.5,544.1 228.5,547.9 228.4,551.1 C228.2,554.4 227.3,557.4 225.1,559.7 C223,562.1 218.8,564.6 215.4,565.1 C212,565.7 208.6,564.8 204.7,563 C200.7,561.2 196.4,558.1 191.7,554.4 C187.1,550.6 181.3,545.2 176.6,540.3 C172,535.5 167.5,529.9 163.7,525.3 C159.9,520.6 156.3,515.7 154,512.3 C151.7,508.9 149.3,506.8 149.7,504.8 Z"/>
<path class="l" d="M152.1,505.6 C154.2,503.9 162.8,501.3 168,500.9 C173.2,500.5 178.2,502 183.1,503.5 C188,505 193.1,507.5 197.5,510 C202,512.4 206.1,515.1 209.6,518.4 C213.2,521.6 216.5,525.8 218.9,529.6 C221.2,533.4 222.7,537.6 223.8,541.2 C225,544.8 226.1,548.3 226,551.1 C225.9,554 225.2,556.3 223.4,558.2 C221.6,560.2 218.4,562.3 215.4,562.8 C212.4,563.2 209.2,562.5 205.5,560.8 C201.8,559.1 197.8,556.3 193.2,552.6 C188.7,548.9 182.8,543.5 178.1,538.6 C173.5,533.8 169,528.1 165.2,523.5 C161.4,519 157.7,514.4 155.5,511.5 C153.3,508.5 150,507.4 152.1,505.6 Z"/>
<path class="t" d="M178.8,542.9 L200.3,557.2"/>
<path class="t" d="M177.5,544 L199.3,558.7"/>
<path class="k" d="M200.3,557.2 L203.2,555.4 L204.2,557.2 L201.8,559.3 Z"/>
<path class="w" d="M195.3,517 C194.1,517.6 190.2,519.3 188.1,520.5 C186,521.6 183.9,522.8 182.6,523.9 C181.4,525 180.6,525.8 180.3,527.1 C180.1,528.3 180.3,530.4 180.9,531.4 C181.5,532.4 182.8,533 184.1,533.1 C185.4,533.2 187,532.8 188.8,532.1 C190.7,531.4 193.3,530.1 195.3,529.1 C197.3,528.1 200.1,526.7 201,526.2"/>
<path class="t" d="M180.9,531.4 C181.1,531.9 181.2,534 181.8,534.5 C182.4,535.1 184.1,534.8 184.5,534.8"/>
<ellipse class="t" cx="189.3" cy="527.1" rx="2.4" ry="1.8" transform="rotate(-15 189.3 527.1)"/>
<path class="w" d="M211.4,538.1 C212.1,536.8 215.2,534 216.8,534.3 C218.5,534.5 220.6,537.8 221.1,539.6 C221.7,541.3 221,543.5 220,544.6 C219,545.7 216.4,546.7 215.1,546.3 C213.9,546 213.2,543.8 212.5,542.4 C211.9,541.1 210.7,539.5 211.4,538.1 Z"/>
<ellipse class="t" cx="216.8" cy="540.3" rx="1.7" ry="2.4" transform="rotate(-20 216.8 540.3)"/>
<path class="l" d="M201.3,534.8 L211.4,538.6"/>
<ellipse class="w" cx="204.6" cy="524.5" rx="9.4" ry="11.8" transform="rotate(-25 204.6 524.5)"/>
<ellipse class="t" cx="204.9" cy="524.6" rx="8.0" ry="10.4" transform="rotate(-25 204.6 524.5)"/>
<ellipse class="l" cx="206.4" cy="525.3" rx="6.3" ry="9.2" transform="rotate(-25 204.6 524.5)"/>
<path class="l" d="M155.8,553.2 L206.5,524.2"/>
<path class="t" d="M188.8,538.1 L193.1,537.1 L194.6,539.6 L193.9,542 L189.8,542 Z" style="stroke-dasharray:1.4 1.2;stroke-width:0.7"/>
<path class="l" d="M191.3,543.4 L191.3,553.9 M191.3,559 L191.3,582"/>
</g>
<g id="asm15">
<path class="w" d="M306.3,540.5 L295.2,541.5 L284.1,544.6 L275.1,551.1 L269,560.2 L266,569.2 L266.5,575.2 L270,580.3 L282.1,579.8 L278.6,577.3 L277.1,571.2 L278.6,564.2 L283.6,556.1 L291.2,550.6 L302.2,547.6 L314.3,547.1 Z" style="stroke:none"/>
<path class="l" d="M306.3,540.5 C304.4,540.7 298.9,540.9 295.2,541.5 C291.5,542.2 287.5,543 284.1,544.6 C280.8,546.2 277.6,548.5 275.1,551.1 C272.6,553.7 270.6,557.1 269,560.2 C267.5,563.2 266.4,566.7 266,569.2 C265.6,571.7 265.9,573.4 266.5,575.2 C267.2,577.1 269.5,579.4 270,580.3"/>
<path class="l" d="M308.9,542.7 C307,542.9 301.3,542.9 297.5,543.6 C293.8,544.2 289.7,545 286.5,546.6 C283.2,548.1 280.3,550.3 277.9,552.8 C275.6,555.3 273.6,558.6 272.2,561.5 C270.9,564.3 270,567.5 269.7,569.9 C269.4,572.3 269.8,574.2 270.6,575.9 C271.3,577.6 273.5,579.4 274.1,580.1"/>
<path class="l" d="M311.6,544.9 C309.7,545 303.7,544.9 299.9,545.6 C296.1,546.2 292,547.1 288.8,548.6 C285.6,550.1 283,552.1 280.8,554.5 C278.5,556.8 276.6,560.2 275.4,562.8 C274.2,565.5 273.5,568.3 273.4,570.5 C273.3,572.8 273.8,575 274.6,576.6 C275.4,578.1 277.5,579.4 278.1,579.9"/>
<path class="l" d="M270,580.3 C270.7,580.5 272.7,581.6 274.1,581.8 C275.4,581.9 276.8,581.6 278.1,581.3 C279.4,580.9 281.5,580 282.1,579.8"/>
<path class="w" d="M314.3,547.1 C311.5,546.7 306.1,547 302.2,547.6 C298.4,548.2 294.3,549.2 291.2,550.6 C288.1,552 285.7,553.9 283.6,556.1 C281.5,558.4 279.7,561.7 278.6,564.2 C277.5,566.7 277.1,569 277.1,571.2 C277.1,573.4 277.8,575.8 278.6,577.3 C279.4,578.7 280.5,578.4 282.1,579.8 C283.7,581.1 286.1,583.5 288.2,585.3 C290.2,587.1 291.5,590.8 294.2,590.3 C296.9,589.8 300.9,585.3 304.3,582.3 C307.6,579.3 311.8,575.7 314.3,572.2 C316.8,568.7 318.2,564 319.3,561.2 C320.5,558.3 321.4,557 321.4,555.1 C321.4,553.3 320.5,551.4 319.3,550.1 C318.2,548.7 317.2,547.5 314.3,547.1 Z"/>
<path class="l" d="M316.8,551.1 C317.8,552 318,553.6 317.9,555.1 C317.9,556.7 317.3,558.5 316.3,560.4 C315.4,562.2 314.1,564.1 312.3,566.4 C310.5,568.7 307.9,571.6 305.3,574.2 C302.6,576.9 298.4,580.4 296.2,582.3 C294,584.1 293.8,585.6 292.2,585.3 C290.6,585.1 288.1,582.5 286.6,580.8 C285.2,579 284,576.8 283.6,574.7 C283.2,572.6 283.5,570.4 284.1,568.2 C284.7,566 285.8,563.3 287.2,561.4 C288.5,559.4 289.7,558 292.2,556.3 C294.7,554.7 298.9,552.7 302.2,551.6 C305.6,550.5 309.9,550 312.3,549.9 C314.7,549.8 315.9,550.2 316.8,551.1 Z"/>
<path class="w" d="M272.1,575.4 L275.1,574.7 L278.6,577.3 L282.1,579.5 L283.7,582.3 L281.1,585.3 L277.1,583.3 L273.9,580.3 Z"/>
<path class="l" d="M275.1,574.7 L277.1,579.3 L281.1,585.3"/>
<path class="w" d="M288.4,584.3 L292.2,582.1 L296.7,585.3 L306.3,579.3 L308.1,580.9 L297.2,588.8 L294.2,590.5 Z"/>
<path class="l" d="M288.4,584.3 L293.4,587.3 L294.2,590.5"/>
<path class="l" d="M293.4,587.3 L296.7,585.3"/>
<path class="w" d="M307.8,569.7 L311.3,567 L315.3,567.2 L317.5,569.7 L316.8,573.4 L314.3,574.8 L312.3,573.2 L309.3,575.2 Z"/>
<path class="l" d="M307.8,569.7 L312.3,570.2 L312.3,573.2"/>
<path class="l" d="M312.3,570.2 L315.3,567.2"/>
<path class="w" d="M288.7,564.7 L322.4,583.3 L318.3,586.3 L286.6,568.7 Z" style="stroke:none"/>
<path class="l" d="M288.7,564.7 L322.4,583.3"/>
<path class="l" d="M286.6,568.7 L318.8,586.5"/>
<path class="w" d="M290.2,556.6 L296.7,553.1 L314.3,549.1 L317.1,551.6 L317.1,554.6 L295.2,562.2 L290.7,560.2 Z"/>
<path class="l" d="M290.2,556.6 L295.7,559.1 L317.1,551.6"/>
<path class="l" d="M295.7,559.1 L295.2,562.2"/>
<path class="l" d="M295.7,552.3 L306.3,549.7 L309.3,550.1 L308.8,551.7 L298.7,554.1 L296.2,553.7 Z" style="stroke-width:1"/>
<path class="w" d="M322.6,579.1 C322.4,579.4 322,579.6 321.1,580.7 C320.2,581.7 318.2,583.3 317.1,585.2 C315.9,587.1 314.7,589.9 314.1,592.2 C313.4,594.6 313.2,597.1 313.2,599.3 C313.3,601.4 313.8,603.5 314.6,605.3 C315.3,607.1 316.5,608.7 317.6,609.8 C318.7,611 319.8,611.9 321.1,612.3 C322.4,612.8 324.5,612.5 325.1,612.5 L326.6,606.8 L322.6,579.1 Z"/>
<path class="w" d="M347.3,567.1 L349.8,566.4 L352.3,566.6 L354.5,567.6 L356.3,569.1 L357.8,571.1 L358.8,573.1 L359.6,575.6 L359.8,578.1 L359.5,581.2 L358.8,584.2 L357.7,586.8 L356.3,589.2 L354.9,591 L353.3,592.7 L351.3,594.2 L349.8,592.2 L347.3,592.7 L345.7,594.7 L343.7,595.4 L339.2,602.3 L334.2,604.8 L329.1,606.3 L326.6,606.8 L325.1,612.3 L322.6,610.1 L320.6,608.8 L319.1,607.3 L317.8,605.3 L316.9,603.3 L316.2,600.3 L315.9,597.3 L316.1,593.7 L316.6,590.2 L317.7,587 L319.1,584.2 L320.7,581.6 L322.6,579.1 L326.6,581.4 L332.2,577.9 L330.2,575.1 L331.4,573.1 L339.2,570.6 L341.4,573.1 L342.7,575.6 L349.3,573.6 L350.1,571.6 L346.4,570.9 Z"/>
<path class="l" d="M326.6,581.4 L327.3,584.2 L332.7,580.2 L332.2,577.9"/>
<path class="l" d="M342.7,575.6 L343,577.3 L349.3,575.3 L349.3,573.6"/>
<path class="l" d="M345.7,594.7 L346,593.2 L347.3,592.7"/>
<path class="l" d="M327.9,590.4 C328.3,589.7 328.9,587.4 330.2,586.4 C331.4,585.3 333.7,584.4 335.2,584.2 C336.7,584 338.3,584.5 339.2,585.2 C340.1,585.9 340.6,587.1 340.8,588.2 C341,589.3 340.3,591.2 340.2,591.8"/>
<path class="l" d="M327.9,590.4 C327.9,591.1 327.4,593.4 327.6,594.7 C327.8,596 328.4,597.5 329.1,598.3 C329.9,599 331.2,599.4 332.2,599.3 C333.2,599.1 334.7,597.6 335.2,597.3"/>
<path class="l" d="M335.2,584.7 C335.5,585.3 336.9,587.1 337.2,588.2 C337.5,589.3 336.9,590.9 336.8,591.4"/>
<path d="M329,590.5 L340,597.8 C346,600.5 354,602.5 362,602.1 C367,601.8 371,600 373.6,598.3 L386.5,590.5 L416,572.3" style="fill:none;stroke:#111;stroke-width:6.0;stroke-linecap:butt;stroke-linejoin:round"/>
<path d="M329,590.5 L340,597.8 C346,600.5 354,602.5 362,602.1 C367,601.8 371,600 373.6,598.3 L386.5,590.5 L416,572.3" style="fill:none;stroke:#fff;stroke-width:3.7;stroke-linecap:butt;stroke-linejoin:round"/>
<path d="M420.6,569.7 L464.1,545.6" style="fill:none;stroke:#111;stroke-width:6.0;stroke-linecap:butt;stroke-linejoin:round"/>
<path d="M420.6,569.7 L464.1,545.6" style="fill:none;stroke:#fff;stroke-width:3.7;stroke-linecap:butt;stroke-linejoin:round"/>
<g transform="translate(418.3,571) rotate(-29.6)" class="t">
<path d="M-1.6,-2.7 C-0.4,-1.6 -2.6,0.8 -1.4,2.7"/>
<path d="M1.8,-2.7 C3,-1.6 0.8,0.8 2,2.7"/>
</g>
<g transform="translate(464.1,545.6) rotate(-29.6)">
<path class="w" d="M9.2,2 L8.6,8.6 L37.8,8.4 L38.4,3 Z"/>
<path class="w" d="M10.6,-7.2 L35.6,-7 C39,-7 41.2,-5 41.2,-2 L41.2,3.2 L10.6,3 Z"/>
<ellipse class="w" cx="10.6" cy="-2.1" rx="2.7" ry="5.1"/>
<path class="t" d="M0,-1.5 L10.5,-3.4 M0,0 L11.5,-1.6 M0,1.5 L11,0.4"/>
<path d="M0,-2.6 L0,2.6" style="stroke:#111;stroke-width:1.4;fill:none"/>
</g>
</g>
<g style="stroke-width:1.0;stroke:#111">
<path class="w" style="stroke-width:1.0" d="M184.4,596 L184.4,601 A7.3,3.2 0 0 0 199,601 L199,596 Z"/>
<ellipse class="w" style="stroke-width:1.0" cx="191.7" cy="596" rx="7.3" ry="3.2"/>
<path class="t" d="M186.5,596.6 A5.2,2.2 0 0 0 196.9,596.6"/>
<path class="w" style="stroke-width:1.0" d="M188,584.9 L188,596.6 A3.7,1.5 0 0 0 195.4,596.6 L195.4,584.9 Z"/>
<path class="l" style="stroke-width:0.95" d="M188,587.2 A3.7,1.4 0 0 0 195.4,587.2"/>
<path class="l" style="stroke-width:0.95" d="M188,589.8 A3.7,1.4 0 0 0 195.4,589.8"/>
<path class="l" style="stroke-width:0.95" d="M188,592.3 A3.7,1.4 0 0 0 195.4,592.3"/>
<path class="l" style="stroke-width:0.95" d="M188,594.9 A3.7,1.4 0 0 0 195.4,594.9"/>
<ellipse class="w" style="stroke-width:1.0" cx="191.7" cy="584.9" rx="3.7" ry="1.5"/>
</g>
<g transform="translate(122.9,573) rotate(-28.8)">
<path class="w" d="M6,-9.0 L25.5,-9.0 A4.6,9.0 0 0 1 25.5,9.0 L6,9.0 Z"/>
<path class="t" d="M23.7,-9.0 A4.6,9.0 0 0 1 23.7,9.0"/>
<path class="k" d="M28.7,-5.5 L31.1,-1.5 L29.9,3 Z"/>
<circle class="w" cx="0" cy="0" r="12.6"/>
</g>
<g id="p17">
<path class="w" d="M12.9,583.4 C14.4,581 18.7,576.7 22.4,573.7 C26.1,570.6 31.6,567 35,565.3 C38.5,563.5 39.5,563.2 42.9,563.2 C46.4,563.2 50.6,563.5 55.6,565.3 C60.6,567.1 67.2,570.4 73,574 C78.8,577.5 85.6,582.1 90.3,586.6 C95.1,591.1 98.5,596.1 101.4,600.8 C104.3,605.6 106.5,611.5 107.7,615.1 C108.9,618.6 109.1,620.1 108.5,622.2 C108,624.3 107.1,625.5 104.6,627.7 C102.1,629.9 97.2,633.4 93.5,635.6 C89.8,637.8 85.3,640.1 82.4,641.1 C79.5,642.2 79,642.3 76.1,641.9 C73.2,641.5 69.5,640.9 65.1,638.8 C60.6,636.7 54.5,633.2 49.3,629.3 C44,625.3 38.2,620.1 33.4,615.1 C28.7,610.1 24.1,603.7 20.8,599.3 C17.5,594.8 15,591.1 13.7,588.5 C12.4,585.9 11.5,585.9 12.9,583.4 Z"/>
<path class="l" d="M13.2,583.8 C14.5,583.2 17.7,580.7 20.8,580.3 C23.9,579.8 27.7,580 31.9,581.1 C36.1,582.1 41.4,584.4 46.1,586.6 C50.8,588.8 56.1,592 60.3,594.5 C64.5,597 68.2,599.3 71.4,601.6 C74.5,604 77.2,606 79.3,608.7 C81.4,611.5 82.8,615.1 84,618.2 C85.2,621.4 85.9,624.8 86.4,627.7 C86.9,630.7 87.1,634.6 87.2,635.9"/>
<path class="l" d="M87.2,632.8 C88.9,632 94.1,629.7 97.5,628 C100.8,626.4 105.8,623.8 107.4,623"/>
<path class="t" d="M14.8,586.6 C16.3,589 20.3,596.4 24,600.8 C27.6,605.3 31.9,610.1 36.6,613.5 C41.4,616.9 47.1,619.3 52.4,621.4 C57.7,623.5 63.3,624.9 68.2,626.1 C73.1,627.3 79.4,628.1 81.7,628.5"/>
<path class="t" d="M20.8,577.1 L35,565.4"/>
<path class="t" d="M24.5,576.7 L37.7,565.9"/>
<path class="t" d="M28.2,576.3 L40.4,566.4"/>
<path class="t" d="M31.9,575.9 L43.1,566.9"/>
<path class="t" d="M35.7,575.5 L45.8,567.5"/>
<path class="t" d="M39.4,575.1 L48.5,568"/>
<path class="t" d="M43.1,574.7 L51.2,568.5"/>
<path class="t" d="M46.8,574.3 L53.8,569"/>
<path class="t" d="M50.5,573.8 L56.5,569.5"/>
</g>
<g id="asm10">
<path d="M466,666 L454,658.1 C450.5,655.5 449,652 449.7,649.3 C450.3,646 452.5,642.6 459.4,638.7 L496.2,618.9" style="fill:none;stroke:#111;stroke-width:6.0;stroke-linecap:butt;stroke-linejoin:round"/>
<path d="M466,666 L454,658.1 C450.5,655.5 449,652 449.7,649.3 C450.3,646 452.5,642.6 459.4,638.7 L496.2,618.9" style="fill:none;stroke:#fff;stroke-width:3.7;stroke-linecap:butt;stroke-linejoin:round"/>
<path d="M500.6,616.6 L545.6,592.3" style="fill:none;stroke:#111;stroke-width:6.0;stroke-linecap:butt;stroke-linejoin:round"/>
<path d="M500.6,616.6 L545.6,592.3" style="fill:none;stroke:#fff;stroke-width:3.7;stroke-linecap:butt;stroke-linejoin:round"/>
<g transform="translate(498.4,617.7) rotate(-28.3)" class="t">
<path d="M-1.6,-2.7 C-0.4,-1.6 -2.6,0.8 -1.4,2.7"/>
<path d="M1.8,-2.7 C3,-1.6 0.8,0.8 2,2.7"/>
</g>
<g transform="translate(545.6,592.3) rotate(-28.3)">
<path class="w" d="M9.2,2 L8.6,8.6 L37.8,8.4 L38.4,3 Z"/>
<path class="w" d="M10.6,-7.2 L35.6,-7 C39,-7 41.2,-5 41.2,-2 L41.2,3.2 L10.6,3 Z"/>
<ellipse class="w" cx="10.6" cy="-2.1" rx="2.7" ry="5.1"/>
<path class="t" d="M0,-1.5 L10.5,-3.4 M0,0 L11.5,-1.6 M0,1.5 L11,0.4"/>
<path d="M0,-2.6 L0,2.6" style="stroke:#111;stroke-width:1.4;fill:none"/>
</g>
<path class="w" d="M469.1,662.6 C468.7,662.4 468,660 466.6,661.1 C465.3,662.2 462.4,666.3 461.1,669.2 C459.8,672 458.9,675.5 458.6,678.2 C458.2,680.9 458.4,683.1 459.1,685.3 C459.8,687.5 460.8,689.7 462.6,691.3 C464.5,692.9 468.9,694.2 470.2,694.8 L471.7,689.3 L469.1,662.6 Z"/>
<path class="w" d="M492.3,650.1 L495.3,649.6 L499.3,650.6 L502.3,653.1 L503.8,655.3 L504.4,657.6 L504.6,659.9 L504.4,662.1 L503.8,664.7 L502.8,667.2 L501.5,669.8 L499.8,672.2 L496.8,675.2 L494.8,675.7 L493.3,674.2 L490.8,675.7 L489.3,677.7 L487.3,678.7 L485.2,683.3 L482.2,685.8 L478.2,687.3 L474.2,688.3 L471.7,689.3 L470.2,694.3 L467.6,692.3 L465.6,689.8 L464.3,686.8 L463.7,683.3 L463.7,679.2 L464.3,675.2 L465.5,670.7 L467.1,666.7 L469.1,662.6 L471.4,664.6 L472.7,665.2 L478.2,660.1 L475.2,658.6 L476.2,655.6 L484.7,653.1 L487.3,655.1 L488.3,658.1 L494.3,656.1 L494.8,654.1 L491.8,653.1 Z"/>
<path class="l" d="M472.7,665.2 L473.2,667 L478.7,661.9 L478.2,660.1"/>
<path class="l" d="M488.3,658.1 L488.5,659.8 L494.3,657.8 L494.3,656.1"/>
<path class="l" d="M489.3,677.7 L489.5,676.2 L490.8,675.7"/>
<path class="l" d="M472.7,673.2 C472.9,672.6 473.1,670.7 474.2,669.7 C475.3,668.7 477.6,667.5 479.2,667.2 C480.8,666.8 482.6,667.2 483.7,667.7 C484.8,668.2 485.5,669.1 485.7,670.2 C486,671.3 485.3,673.5 485.2,674.2"/>
<path class="l" d="M472.7,673.2 C472.6,674 472.1,676.5 472.4,677.7 C472.6,679 473.4,680.2 474.2,680.7 C475,681.3 476.3,681.4 477.2,681.2 C478.1,681.1 479.3,680 479.7,679.7"/>
<path class="l" d="M480.2,667.7 C480.5,668.3 481.8,670.1 482,671.2 C482.2,672.3 481.5,673.7 481.4,674.2"/>
<path class="w" d="M475.2,671.2 L504.4,684.8 L501.8,689.8 L474.2,675.2 Z" style="stroke:none"/>
<path class="l" d="M475.2,671.2 L504.4,684.8"/>
<path class="l" d="M474.2,675.2 L501.8,689.8"/>
<path class="l" d="M499.7,703.3 C499.4,703.5 498,703.5 498,704.6 C498,705.7 498,708.1 499.7,709.8 C501.4,711.5 506.7,714.1 508.1,715"/>
<path class="l" d="M501.6,704.6 C501.9,705.3 501.6,707.2 502.9,708.5 C504.2,709.8 508.3,711.7 509.4,712.4"/>
<path class="w" d="M500.3,702.7 L498.4,698.8 L499.1,693.6 L502.3,685.9 L508.1,678.8 L515.9,674.2 L524.9,672.3 L532.7,671.6 L549.5,680 L580,696.2 L553.7,701.3 L569.5,698.2 L585.3,699 L601.1,704.5 L616.9,715.5 L628,728.2 L632.7,740.8 L631.2,751.9 L624.8,761.4 L616.9,766.9 L612.2,769.3 L612.2,769.3 L605.9,773.2 L593.2,774 L577.4,770.9 L561.6,763 L549,751.9 L539.5,739.3 L533.2,726.6 L532.4,721.1 L532.7,724.7 L517.8,718.8 L515.9,711.7 L517.2,702.7 L519.7,694.9 L524.9,687.8 L532.7,683.3 L541.7,680.7 L549.5,680 Z" style="stroke:none"/>
<path class="w" d="M532.7,671.6 L524.9,672.3 L515.9,674.2 L508.1,678.8 L502.3,685.9 L499.1,693.6 L498.4,698.8 L500.3,702.7 L517.8,718.8 L515.9,711.7 L517.2,702.7 L519.7,694.9 L524.9,687.8 L532.7,683.3 L541.7,680.7 L549.5,680 Z" style="stroke:none"/>
<path class="l" d="M532.7,671.6 C531.4,671.7 527.7,671.9 524.9,672.3 C522.1,672.7 518.7,673.1 515.9,674.2 C513.1,675.3 510.4,676.8 508.1,678.8 C505.8,680.7 503.8,683.4 502.3,685.9 C500.8,688.3 499.7,691.5 499.1,693.6 C498.4,695.8 498.2,697.3 498.4,698.8 C498.6,700.3 500,702 500.3,702.7"/>
<path class="l" d="M536.9,673.7 C535.6,673.8 531.9,673.9 529.1,674.4 C526.3,674.8 522.9,675.4 520.1,676.5 C517.3,677.6 514.5,679.1 512.3,681 C510.1,683 508.1,685.6 506.6,688.1 C505.2,690.6 504.2,693.6 503.6,695.9 C502.9,698.2 502.6,700.2 502.8,702 C503,703.8 504.4,705.9 504.7,706.7"/>
<path class="l" d="M541.1,675.8 C539.8,675.9 536.1,676 533.3,676.5 C530.5,677 527.1,677.6 524.3,678.8 C521.5,679.9 518.7,681.3 516.5,683.3 C514.3,685.2 512.4,687.9 511,690.4 C509.6,692.9 508.8,695.7 508.1,698.1 C507.5,700.6 507,703.2 507.1,705.3 C507.3,707.4 508.8,709.8 509.1,710.8"/>
<path class="l" d="M545.3,677.9 C544,678.1 540.3,678.1 537.5,678.6 C534.7,679.1 531.3,679.9 528.5,681 C525.7,682.2 522.9,683.6 520.7,685.5 C518.5,687.5 516.7,690.2 515.4,692.7 C514,695.1 513.3,697.8 512.6,700.4 C512,703.1 511.4,706.1 511.5,708.5 C511.6,710.9 513.1,713.7 513.4,714.8"/>
<path class="l" d="M549.5,680 C548.2,680.2 544.5,680.2 541.7,680.7 C538.9,681.2 535.5,682.1 532.7,683.3 C529.9,684.5 527.1,685.9 524.9,687.8 C522.8,689.7 521,692.4 519.7,694.9 C518.4,697.4 517.8,699.9 517.2,702.7 C516.5,705.5 515.8,709 515.9,711.7 C516,714.4 517.5,717.7 517.8,718.8"/>
<path class="l" d="M532.7,671.6 C533.6,672 536.6,672.8 538.5,673.6 C540.4,674.4 542.5,675.5 544.3,676.6 C546.1,677.6 548.6,679.5 549.5,680"/>
<path class="l" d="M500.3,702.7 C501.1,703.6 503.1,706.6 504.9,708.5 C506.6,710.4 508.5,712.6 510.7,714.3 C512.8,716 516.6,718.1 517.8,718.8"/>
<path class="w" d="M502.3,677.1 L503.6,674.2 L519.7,668.4 L523.4,670.3 L523.9,672.5 L517.8,672.9 L509.4,677.5 L507.8,680.7 Z"/>
<path class="l" d="M503.6,674.2 L509.4,677.5 L523.4,670.3"/>
<path class="t" d="M511.3,675.1 L519.1,672.4 L520.8,673.1 L513,676 Z"/>
<path class="l" d="M549.5,680 L580,696.2"/>
<path class="l" d="M517.8,718.8 L532.7,724.7"/>
<path class="l" d="M533.2,714.8 C534.2,713.6 536.1,709.9 539.5,707.6 C542.9,705.4 548.7,702.9 553.7,701.3 C558.7,699.7 564.2,698.6 569.5,698.2 C574.8,697.8 580.1,697.9 585.3,699 C590.6,700 595.9,701.7 601.1,704.5 C606.4,707.2 612.5,711.6 616.9,715.5 C621.4,719.5 625.4,724 628,728.2 C630.6,732.4 632.2,736.9 632.7,740.8 C633.3,744.8 632.5,748.5 631.2,751.9 C629.8,755.3 627.2,758.9 624.8,761.4 C622.5,763.9 619,765.6 616.9,766.9 C614.8,768.2 613,768.9 612.2,769.3"/>
<path class="l" d="M531.6,716.9 C532.2,716 533.1,713.7 535.3,711.7 C537.4,709.8 540.6,707.2 544.3,705.3 C548,703.3 552.5,701.4 557.2,700.1 C562,698.8 570.2,697.9 572.8,697.5"/>
<path class="w" d="M532.4,721.1 C532.4,719.2 532.6,717.3 533.5,715.5 C534.4,713.8 535.8,712 537.9,710.8 C540,709.6 543.2,708.6 545.8,708.4 C548.4,708.3 549.8,708 553.7,710 C557.7,712 564.5,716.7 569.5,720.3 C574.5,723.8 579.3,727.7 583.7,731.4 C588.2,735 593,739 596.4,742.4 C599.8,745.8 602,748.7 604.3,751.9 C606.5,755.1 608.5,758.5 609.8,761.4 C611.1,764.3 612.8,767.3 612.2,769.3 C611.5,771.3 609,772.4 605.9,773.2 C602.7,774 598,774.4 593.2,774 C588.5,773.6 582.7,772.7 577.4,770.9 C572.1,769 566.4,766.1 561.6,763 C556.9,759.8 552.7,755.9 549,751.9 C545.3,747.9 542.1,743.5 539.5,739.3 C536.8,735 534.3,729.6 533.2,726.6 C532,723.6 532.3,722.9 532.4,721.1 Z"/>
<path class="l" d="M534.7,721.1 C534.9,719.2 535.4,717 536.3,715.5 C537.2,714.1 538.6,713.2 540.3,712.4 C542,711.6 544.4,710.8 546.6,710.8 C548.8,710.8 550,710.4 553.7,712.4 C557.4,714.4 564,719.2 568.7,722.7 C573.5,726.1 577.9,729.7 582.2,733.2 C586.5,736.8 591.2,740.7 594.5,744 C597.8,747.3 599.8,750.1 601.9,753.2 C604.1,756.2 606.3,759.7 607.4,762.2 C608.6,764.6 609.6,766.6 609,768 C608.5,769.5 606.9,770.3 604.3,770.9 C601.7,771.5 597.6,772.1 593.2,771.7 C588.9,771.3 583.2,770.3 578.2,768.5 C573.2,766.7 567.7,764.1 563.2,761.1 C558.7,758 554.9,754.1 551.3,750.3 C547.8,746.6 544.5,742.4 541.9,738.5 C539.2,734.5 536.7,729.5 535.5,726.6 C534.3,723.7 534.6,722.9 534.7,721.1 Z"/>
<path class="l" d="M545.8,711.6 C545.5,712.8 544.2,716.5 544.2,718.7 C544.2,720.9 544.8,723.4 545.8,725 C546.9,726.6 548.7,727.9 550.5,728.2 C552.4,728.5 555.3,727.7 556.9,726.6 C558.4,725.6 559.3,723.4 560,721.9 C560.7,720.3 560.8,717.9 561,717.1"/>
<path class="t" d="M547.7,712.7 C547.5,713.7 546.4,716.9 546.4,718.7 C546.4,720.6 547,722.6 547.7,723.8 C548.4,725 550.3,725.6 550.9,726"/>
<ellipse class="t" cx="552.9" cy="718.4" rx="1.7" ry="2.4" transform="rotate(15 552.9 718.4)"/>
<path class="t" d="M558.4,716.8 C558.8,717.3 559.4,718.9 560.3,719.5 C561.3,720.1 563.1,720.4 564,720.3 C564.9,720.2 565.4,719 565.7,718.7"/>
<path class="l" d="M567.3,734.2 C566.7,734.6 564.1,735.3 563.5,736.4 C562.9,737.5 563.1,739.8 563.8,740.8 C564.6,741.8 567.2,742.2 567.9,742.4"/>
<path class="l" d="M568.9,743.7 C568.6,744.2 566.7,745.9 567,746.8 C567.2,747.7 569.9,748.7 570.5,749.1"/>
<ellipse class="w" cx="575.8" cy="737.7" rx="9.3" ry="12" transform="rotate(-28 575.8 737.7)"/>
<ellipse class="t" cx="577.4" cy="737.4" rx="7.6" ry="10.2" transform="rotate(-28 575.8 737.7)"/>
<path class="l" d="M586.3,735.8 L596.4,742.4"/>
<path class="l" d="M587.2,745.9 L593.5,742.1"/>
<path class="w" d="M589.4,760.6 L589.4,763.8 A8.6,4.6 0 0 0 606.6,763.8 L606.6,760.6 Z"/>
<ellipse class="w" cx="598" cy="760.6" rx="8.6" ry="4.6"/>
<ellipse class="t" cx="598" cy="758.8" rx="2.2" ry="1.7"/>
<path class="k" d="M556.1,761.1 L560.3,758.5 L561,761.1 L558.4,763.3 Z"/>
<path class="l" d="M535.5,760.6 L577.4,736.9"/>
<path class="l" d="M598,760.1 L598,769.3 M598,777.2 L598,785.9"/>
</g>
<g style="stroke-width:1.0;stroke:#111">
<path class="w" style="stroke-width:1.0" d="M590.3,801.6 L590.3,806.6 A7.3,3.2 0 0 0 604.9,806.6 L604.9,801.6 Z"/>
<ellipse class="w" style="stroke-width:1.0" cx="597.6" cy="801.6" rx="7.3" ry="3.2"/>
<path class="t" d="M592.4,802.2 A5.2,2.2 0 0 0 602.8,802.2"/>
<path class="w" style="stroke-width:1.0" d="M593.9,790.5 L593.9,802.2 A3.7,1.5 0 0 0 601.3,802.2 L601.3,790.5 Z"/>
<path class="l" style="stroke-width:0.95" d="M593.9,792.8 A3.7,1.4 0 0 0 601.3,792.8"/>
<path class="l" style="stroke-width:0.95" d="M593.9,795.4 A3.7,1.4 0 0 0 601.3,795.4"/>
<path class="l" style="stroke-width:0.95" d="M593.9,797.9 A3.7,1.4 0 0 0 601.3,797.9"/>
<path class="l" style="stroke-width:0.95" d="M593.9,800.5 A3.7,1.4 0 0 0 601.3,800.5"/>
<ellipse class="w" style="stroke-width:1.0" cx="597.6" cy="790.5" rx="3.7" ry="1.5"/>
</g>
<g transform="translate(501.7,781) rotate(-30.3)">
<path class="w" d="M6,-9.0 L25.5,-9.0 A4.6,9.0 0 0 1 25.5,9.0 L6,9.0 Z"/>
<path class="t" d="M23.7,-9.0 A4.6,9.0 0 0 1 23.7,9.0"/>
<path class="k" d="M28.7,-5.5 L31.1,-1.5 L29.9,3 Z"/>
<circle class="w" cx="0" cy="0" r="12.2"/>
</g>
<g id="p12">
<path class="w" d="M404.4,801.4 C404.3,798.7 404.7,797.4 406.3,795 C408,792.7 411.3,790 414.2,787.1 C417.1,784.2 420.5,780.1 423.7,777.6 C426.9,775.1 430.3,773 433.2,772.1 C436.1,771.2 437.9,771.2 441.1,772.1 C444.3,773 447.9,774.9 452.2,777.6 C456.4,780.4 461.6,784.5 466.4,788.7 C471.1,792.9 476.1,798.2 480.6,802.9 C485.1,807.7 489.8,812.9 493.3,817.2 C496.7,821.4 499.6,825.7 501.2,828.2 C502.7,830.7 503.5,830.6 502.4,832.2 C501.4,833.8 498.5,835.9 494.8,837.7 C491.2,839.5 484.8,841.9 480.6,843.2 C476.4,844.6 473.2,845.4 469.5,845.9 C465.9,846.4 462.7,847 458.5,846.4 C454.3,845.8 449.3,844.7 444.3,842.4 C439.2,840.2 433.2,836.4 428.4,833 C423.7,829.5 419.4,825.6 415.8,821.9 C412.2,818.2 409,814.3 407.1,810.8 C405.2,807.4 404.6,804 404.4,801.4 Z"/>
<path class="l" d="M414.2,787.6 C415.5,787.8 419,787.5 422.1,788.7 C425.3,789.9 429,792.4 433.2,795 C437.4,797.7 442.7,801.1 447.4,804.5 C452.2,807.9 457.7,812.2 461.6,815.6 C465.6,819 468.5,822.2 471.1,825.1 C473.8,828 475.8,830.6 477.4,833 C479.1,835.3 480.4,837.5 480.9,839.3 C481.4,841 480.7,842.7 480.6,843.4"/>
<path class="l" d="M480.6,840.5 C482.5,839.8 488.1,837.7 491.7,836.1 C495.3,834.6 500.4,832.2 502.1,831.4"/>
<path class="t" d="M406.3,802.9 C407.4,804.8 409.7,810.6 412.6,814 C415.5,817.4 419.2,820.6 423.7,823.5 C428.2,826.4 434,829.3 439.5,831.4 C445,833.5 450.7,834.9 456.9,836.1 C463.1,837.4 473.4,838.5 476.7,839"/>
<path class="t" d="M419,785.5 L431.6,773.9"/>
<path class="t" d="M422.4,785.6 L434.4,774.7"/>
<path class="t" d="M425.8,785.6 L437.1,775.6"/>
<path class="t" d="M429.2,785.7 L439.9,776.5"/>
<path class="t" d="M432.6,785.7 L442.7,777.3"/>
<path class="t" d="M436,785.8 L445.4,778.2"/>
<path class="t" d="M439.4,785.8 L448.2,779.1"/>
<path class="t" d="M442.8,785.9 L451,779.9"/>
</g>
<g id="fwd">
<path class="w" d="M39.6,881.4 L55.7,856.1 L59.4,858.8 L60.2,861.6 L84.3,847.5 L88.6,849.8 L88.4,869.7 L60.2,885.8 L60.2,893.3 Z" style="stroke-width:1.4"/>
<path class="l" d="M43.6,883.1 L59.4,859.1 L60.2,865.7 L88.1,851.3" style="stroke-width:0.9"/>
<path class="l" d="M43.6,883.1 L39.6,881.4" style="stroke-width:0.9"/>
<text transform="matrix(0.82,-0.415,0,1.06,59.6,882.3)" style="font-family:'Liberation Sans',sans-serif;font-weight:bold;font-style:italic;font-size:15px;fill:#111;stroke:#111;stroke-width:0.35;">FWD</text>
</g>
</svg>
</body>
</html>
